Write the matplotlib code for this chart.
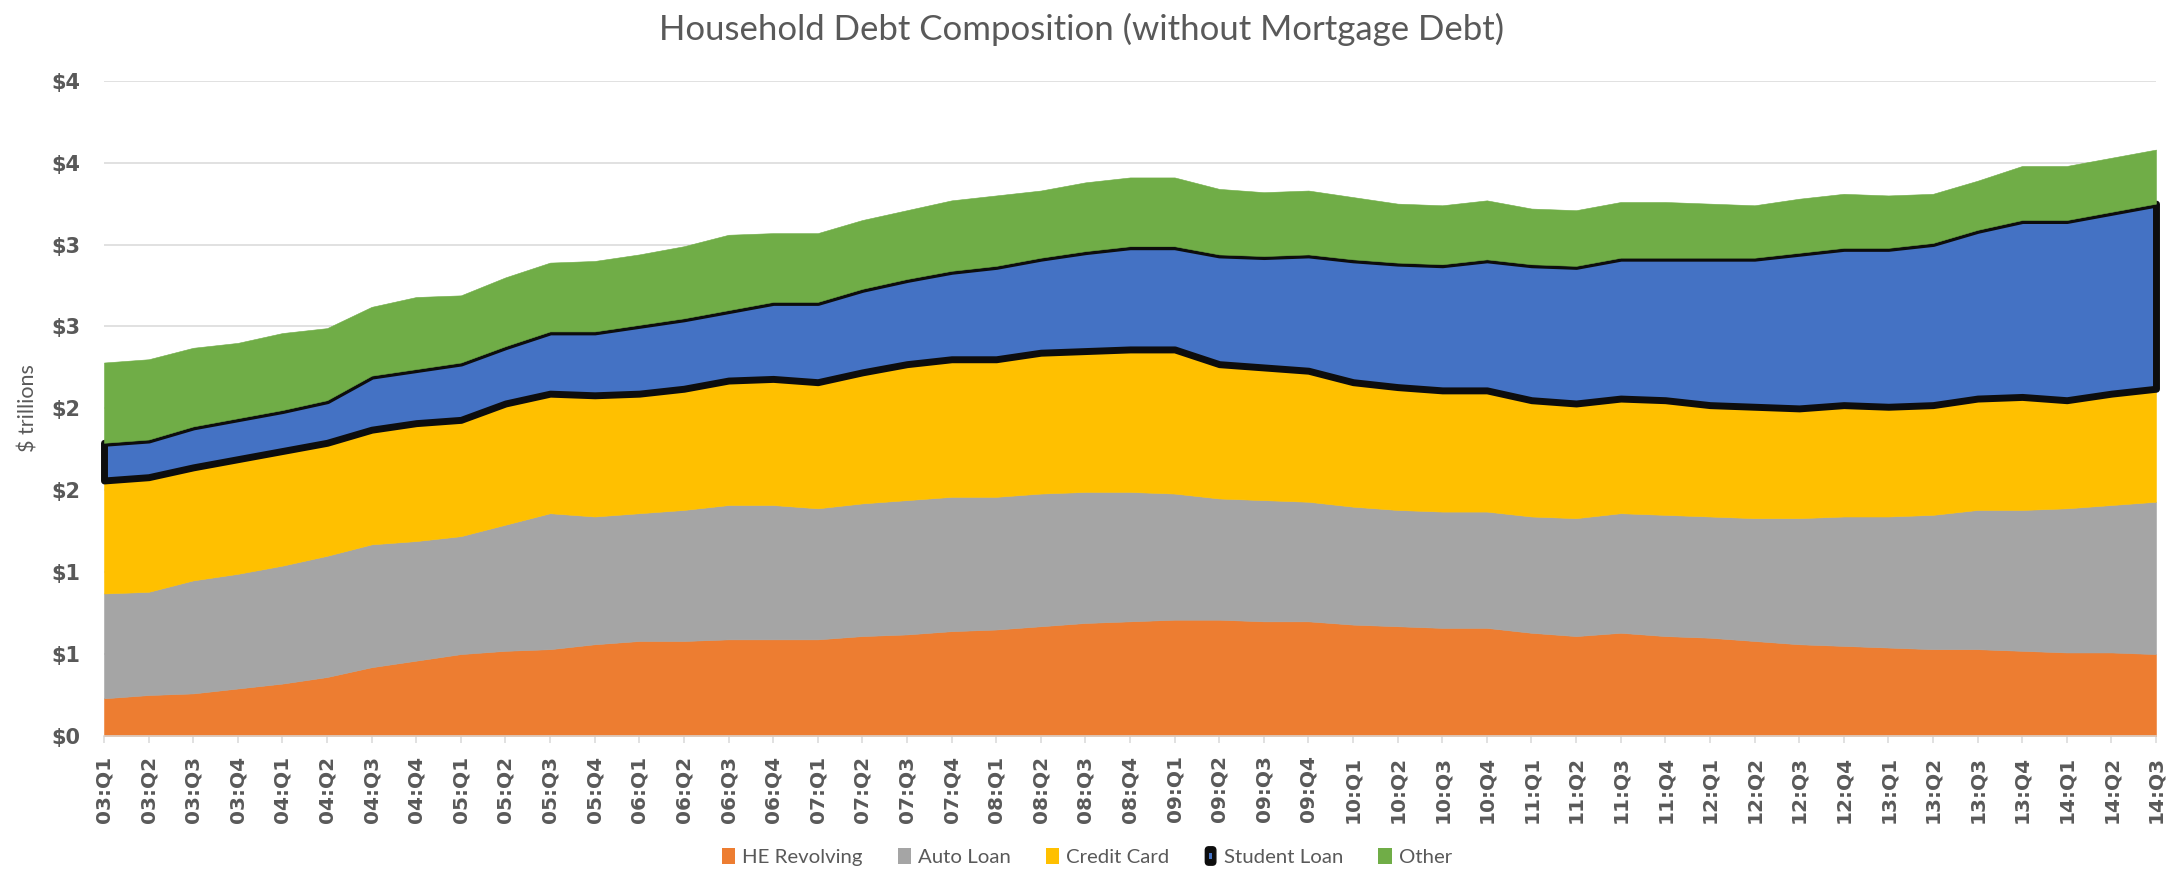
import matplotlib
matplotlib.use("Agg")
import matplotlib.pyplot as plt
import numpy as np
from matplotlib.patches import Patch, FancyBboxPatch, Rectangle
from matplotlib.legend_handler import HandlerBase
from matplotlib.ticker import FuncFormatter, MultipleLocator

quarters = ['03:Q1', '03:Q2', '03:Q3', '03:Q4', '04:Q1', '04:Q2', '04:Q3', '04:Q4',
            '05:Q1', '05:Q2', '05:Q3', '05:Q4', '06:Q1', '06:Q2', '06:Q3', '06:Q4',
            '07:Q1', '07:Q2', '07:Q3', '07:Q4', '08:Q1', '08:Q2', '08:Q3', '08:Q4',
            '09:Q1', '09:Q2', '09:Q3', '09:Q4', '10:Q1', '10:Q2', '10:Q3', '10:Q4',
            '11:Q1', '11:Q2', '11:Q3', '11:Q4', '12:Q1', '12:Q2', '12:Q3', '12:Q4',
            '13:Q1', '13:Q2', '13:Q3', '13:Q4', '14:Q1', '14:Q2', '14:Q3']

he_revolving = [0.23, 0.25, 0.26, 0.29, 0.32, 0.36, 0.42, 0.46, 0.50, 0.52,
                0.53, 0.56, 0.58, 0.58, 0.59, 0.59, 0.59, 0.61, 0.62, 0.64,
                0.65, 0.67, 0.69, 0.70, 0.71, 0.71, 0.70, 0.70, 0.68, 0.67,
                0.66, 0.66, 0.63, 0.61, 0.63, 0.61, 0.60, 0.58, 0.56, 0.55,
                0.54, 0.53, 0.53, 0.52, 0.51, 0.51, 0.50]
auto_loan = [0.64, 0.63, 0.69, 0.70, 0.72, 0.74, 0.75, 0.73, 0.72, 0.77,
             0.83, 0.78, 0.78, 0.80, 0.82, 0.82, 0.80, 0.81, 0.82, 0.82,
             0.81, 0.81, 0.80, 0.79, 0.77, 0.74, 0.74, 0.73, 0.72, 0.71,
             0.71, 0.71, 0.71, 0.72, 0.73, 0.74, 0.74, 0.75, 0.77, 0.79,
             0.80, 0.82, 0.85, 0.86, 0.88, 0.90, 0.93]
credit_card = [0.69, 0.70, 0.69, 0.70, 0.70, 0.69, 0.70, 0.72, 0.71, 0.74,
               0.73, 0.74, 0.73, 0.74, 0.76, 0.77, 0.77, 0.80, 0.83, 0.84,
               0.84, 0.86, 0.86, 0.87, 0.88, 0.82, 0.81, 0.80, 0.76, 0.75,
               0.74, 0.74, 0.71, 0.70, 0.70, 0.70, 0.68, 0.68, 0.67, 0.68,
               0.67, 0.67, 0.68, 0.69, 0.66, 0.68, 0.69]
student_loan = [0.23, 0.23, 0.25, 0.25, 0.25, 0.26, 0.33, 0.33, 0.35, 0.35,
                0.38, 0.39, 0.42, 0.43, 0.43, 0.47, 0.49, 0.51, 0.52, 0.54,
                0.57, 0.58, 0.61, 0.63, 0.63, 0.67, 0.68, 0.71, 0.75, 0.76,
                0.77, 0.80, 0.83, 0.84, 0.86, 0.87, 0.90, 0.91, 0.95, 0.96,
                0.97, 0.99, 1.03, 1.08, 1.10, 1.11, 1.13]
other = [0.49, 0.49, 0.48, 0.46, 0.47, 0.44, 0.42, 0.44, 0.41, 0.42,
         0.42, 0.43, 0.43, 0.44, 0.46, 0.42, 0.42, 0.42, 0.42, 0.43,
         0.43, 0.41, 0.42, 0.42, 0.42, 0.40, 0.39, 0.39, 0.38, 0.36,
         0.36, 0.36, 0.34, 0.34, 0.34, 0.34, 0.33, 0.32, 0.33, 0.33,
         0.32, 0.30, 0.30, 0.33, 0.33, 0.33, 0.33]

series_names = ['HE Revolving', 'Auto Loan', 'Credit Card', 'Student Loan', 'Other']
series_colors = ['#ED7D31', '#A5A5A5', '#FFC000', '#4472C4', '#70AD47']

TEXT = '#595959'
GRID = '#D9D9D9'

fig = plt.figure(figsize=(21.77, 8.8), dpi=100)
ax = fig.add_axes([0.04777, 0.16364, 0.94258, 0.74455])

x = np.arange(len(quarters))
data = [he_revolving, auto_loan, credit_card, student_loan, other]
base = np.zeros(len(quarters))
for i, (vals, name, col) in enumerate(zip(data, series_names, series_colors)):
    top = base + np.array(vals)
    if name == 'Student Loan':
        ax.fill_between(x, base, top, facecolor=col, edgecolor='#0D0D0D',
                        linewidth=5.0, zorder=2 + i, clip_on=False,
                        joinstyle='round')
    else:
        ax.fill_between(x, base, top, facecolor=col, edgecolor=col,
                        linewidth=0.4, zorder=2 + i)
    base = top

ax.set_xlim(0, len(quarters) - 1)
ax.set_ylim(0, 4)
ax.yaxis.set_major_locator(MultipleLocator(0.5))
ax.yaxis.set_major_formatter(FuncFormatter(lambda v, p: '$%d' % int(np.floor(v + 0.5))))
ax.grid(axis='y', color=GRID, linewidth=1.1, zorder=0)
ax.set_axisbelow(True)

ax.set_xticks(x)
ax.set_xticklabels(quarters, rotation=90, fontweight='bold', fontsize=14.5,
                   color=TEXT, family='DejaVu Sans')
for lab in ax.get_yticklabels():
    lab.set_fontweight('bold')
ax.tick_params(axis='y', length=0, pad=17, labelsize=15, labelcolor=TEXT)
ax.tick_params(axis='x', length=5, width=1.1, color=GRID, pad=9, direction='out')

for s in ['top', 'right', 'left']:
    ax.spines[s].set_visible(False)
ax.spines['bottom'].set_color(GRID)
ax.spines['bottom'].set_linewidth(1.1)
ax.spines['bottom'].set_zorder(10)

fig.text(0.497, 0.966, 'Household Debt Composition (without Mortgage Debt)',
         ha='center', va='center', fontsize=25, color=TEXT,
         family='Lato', fontweight='normal')
fig.text(0.0129, 0.5364, '$ trillions', rotation=90, ha='center', va='center',
         fontsize=15.5, color=TEXT, family='Lato')


class StudentHandler(HandlerBase):
    def create_artists(self, legend, orig_handle, xdescent, ydescent,
                       width, height, fontsize, trans):
        outer = FancyBboxPatch((-xdescent + 1, -ydescent - 1), width - 2, height + 2,
                               boxstyle='round,pad=0,rounding_size=2.5',
                               facecolor='#0D0D0D', edgecolor='#0D0D0D',
                               transform=trans)
        inner = Rectangle((-xdescent + width * 0.38, -ydescent + height * 0.3),
                          width * 0.24, height * 0.4, facecolor='#4472C4',
                          edgecolor='none', transform=trans)
        return [outer, inner]


handles = []
hmap = {}
for name, col in zip(series_names, series_colors):
    if name == 'Student Loan':
        h = Patch(facecolor='#0D0D0D', edgecolor='none')
        hmap[h] = StudentHandler()
    else:
        h = Patch(facecolor=col, edgecolor='none')
    handles.append(h)

leg = fig.legend(handles, series_names, loc='center', bbox_to_anchor=(0.4993, 0.026),
                 ncol=5, frameon=False, handler_map=hmap,
                 prop={'family': 'Lato', 'size': 14.7},
                 handlelength=0.65, handleheight=0.8, handletextpad=0.35,
                 columnspacing=1.7)
for t in leg.get_texts():
    t.set_color(TEXT)

fig.savefig('out.png', dpi=100)
